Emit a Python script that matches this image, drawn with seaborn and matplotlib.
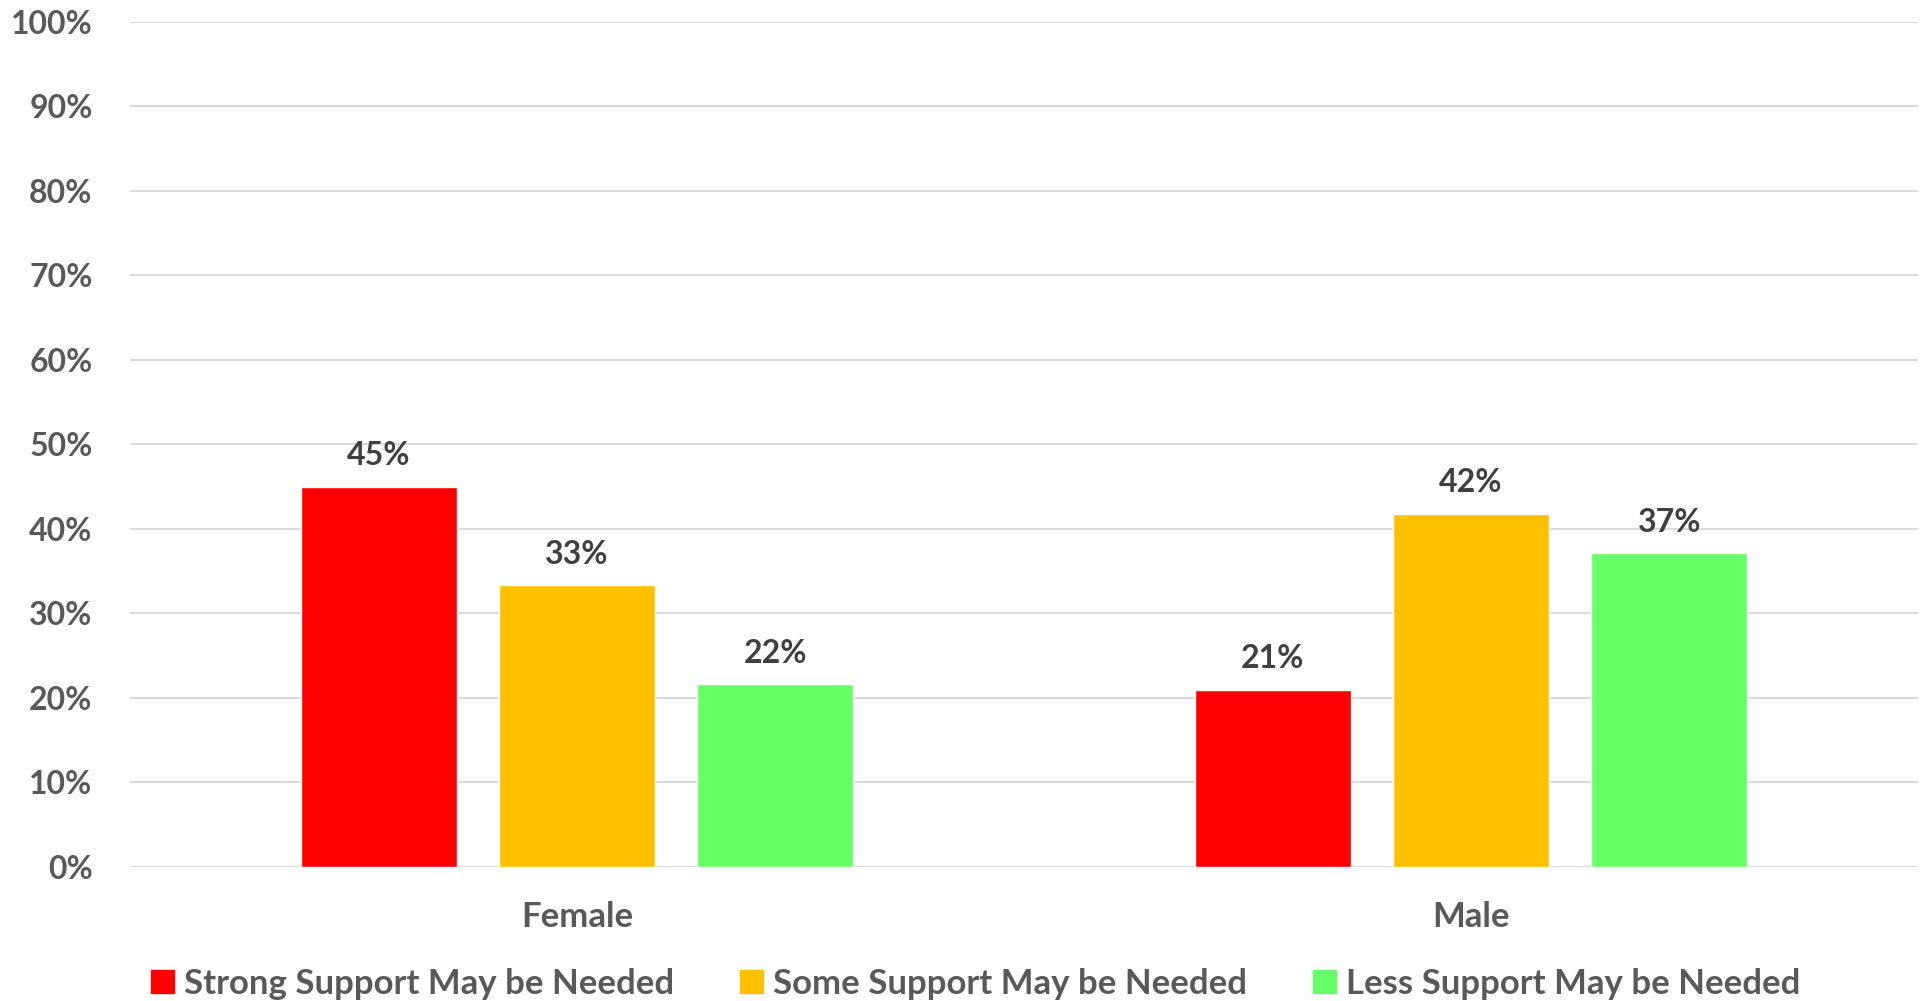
import pandas as pd
import seaborn as sns
import matplotlib.pyplot as plt
from matplotlib.ticker import PercentFormatter

# valores
generos = ['Female', 'Male']
niveis = ['Strong Support May be Needed', 'Some Support May be Needed', 'Less Support May be Needed']
feminino = [0.450, 0.333, 0.216]
masculino = [0.209, 0.418, 0.371]
cores = ['#FF0000', '#FFC000', '#66FF66']

df = pd.DataFrame({
    'genero': [g for g in generos for _ in niveis],
    'nivel': niveis * 2,
    'valor': feminino + masculino,
})

sns.set_style('white')
plt.rcParams['font.family'] = ['Lato', 'DejaVu Sans']

fig = plt.figure(figsize=(19.29, 10.01), dpi=100)
ax = fig.add_axes([0.0674, 0.1342, 0.9269, 0.8438])

sns.barplot(data=df, x='genero', y='valor', hue='nivel', order=generos, hue_order=niveis,
            palette=cores, width=0.665, gap=0.211, saturation=1, ax=ax, legend=False)

for cont in ax.containers:
    ax.bar_label(cont, labels=[f'{round(b.get_height() * 100)}%' for b in cont],
                 padding=12, fontsize=23, fontweight='bold', color='#404040')

ax.set_ylim(0, 1)
ax.set_xlim(-0.5, 1.5)
ax.set_yticks([i / 10 for i in range(11)])
ax.yaxis.set_major_formatter(PercentFormatter(1, decimals=0))
ax.grid(axis='y', color='#d9d9d9', linewidth=1.4)
ax.set_axisbelow(True)
sns.despine(ax=ax, left=True, bottom=True, top=True, right=True)
ax.tick_params(axis='y', length=0, pad=27, labelsize=23, labelcolor='#595959')
ax.tick_params(axis='x', length=0, pad=25, labelsize=25, labelcolor='#595959')
for t in ax.get_yticklabels() + ax.get_xticklabels():
    t.set_fontweight('bold')
ax.set_xlabel('')
ax.set_ylabel('')

handles = [plt.Rectangle((0, 0), 1, 1, color=c) for c in cores]
leg = fig.legend(handles, niveis, loc='center', bbox_to_anchor=(0.506, 0.017), ncol=3,
                 frameon=False, handlelength=0.65, handleheight=0.65,
                 handletextpad=0.3, columnspacing=1.9,
                 prop={'weight': 'bold', 'size': 25})
for t in leg.get_texts():
    t.set_color('#595959')

fig.savefig('out.png', dpi=100)
